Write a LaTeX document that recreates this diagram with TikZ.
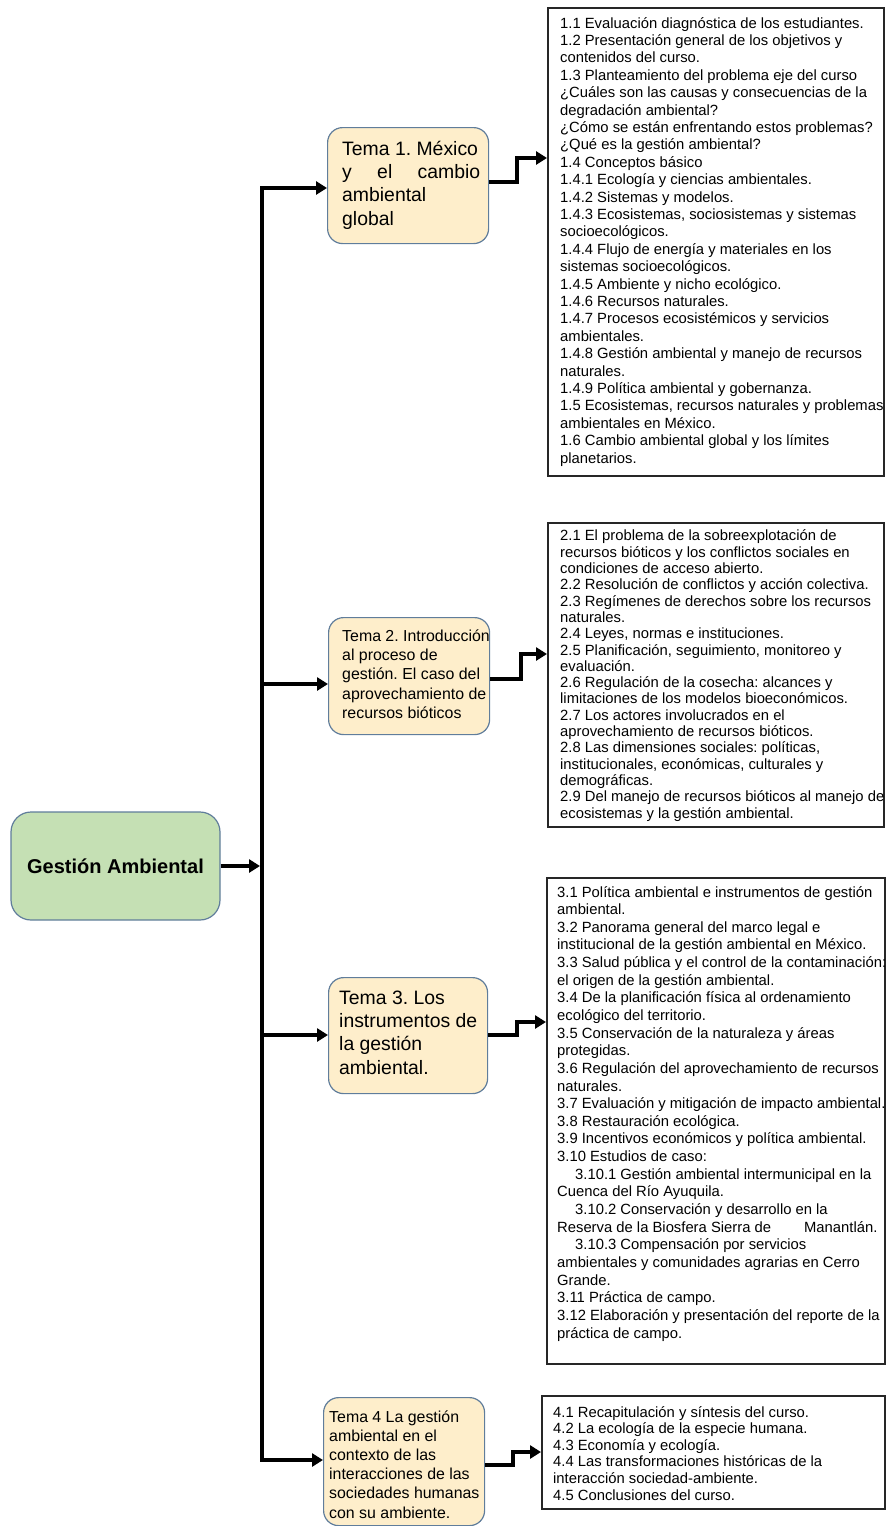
\documentclass[tikz,border=0pt]{standalone}
\usepackage{fontspec}
\setmainfont{Liberation Sans}
\usetikzlibrary{arrows.meta}
\frenchspacing
\definecolor{temafill}{RGB}{254,238,203}
\definecolor{gafill}{RGB}{197,224,180}
\definecolor{boxline}{RGB}{96,125,155}
\newcommand{\listfont}[1]{\fontsize{14.8}{#1}\selectfont}
\tikzset{gmarrow/.style={-{Triangle[length=11pt,width=13pt]}, line width=4pt},
gmline/.style={line width=4pt, line cap=rect},
temabox/.style={draw=boxline, line width=1.2pt, fill=temafill, rounded corners=15pt, anchor=north west, inner sep=0pt},
listbox/.style={draw=black!85, line width=1.5pt, anchor=north west, inner sep=0pt},
listtxt/.style={anchor=base west, align=left, inner sep=0pt}}

\begin{document}
\begin{tikzpicture}[x=1pt, y=-1pt]
\useasboundingbox (0,0) rectangle (886,1526);
\node[draw=boxline, line width=1.2pt, fill=gafill, rounded corners=20pt, minimum width=209pt, minimum height=108pt, font=\fontsize{20}{24}\selectfont\bfseries] (ga) at (115.5,866) {Gestión Ambiental};
\coordinate (j1) at (262,188);
\coordinate (j2) at (262,684);
\coordinate (j3) at (262,1035);
\coordinate (j4) at (262,1460);
\node[temabox, minimum width=161pt, minimum height=116pt] (t1) at (327,127) {};
\node[temabox, minimum width=161pt, minimum height=117pt] (t2) at (328,617) {};
\node[temabox, minimum width=159pt, minimum height=116pt] (t3) at (328,977) {};
\node[temabox, minimum width=161pt, minimum height=128pt] (t4) at (323,1397) {};
\node[listtxt, font=\fontsize{19.4}{23.3}\selectfont] (t1txt) at (342,225) {Tema 1. México\\ \makebox[138pt][s]{y el cambio}\\ ambiental\\ global};
\node[listtxt, font=\fontsize{15.9}{19.4}\selectfont] (t2txt) at (342,718.6) {Tema 2. Introducción\\ al proceso de\\ gestión. El caso del\\ aprovechamiento de\\ recursos bióticos};
\node[listtxt, font=\fontsize{19.4}{23.3}\selectfont] (t3txt) at (339,1074) {Tema 3. Los\\ instrumentos de\\ la gestión\\ ambiental.};
\node[listtxt, font=\fontsize{15.9}{19.2}\selectfont] (t4txt) at (329,1518) {Tema 4 La gestión\\ ambiental en el\\ contexto de las\\ interacciones de las\\ sociedades humanas\\ con su ambiente.};
\node[listbox, minimum width=336pt, minimum height=468pt] (l1) at (547,7) {};
\node[listbox, minimum width=336pt, minimum height=304pt] (l2) at (547,522) {};
\node[listbox, minimum width=338pt, minimum height=486pt] (l3) at (546,877) {};
\node[listbox, minimum width=343pt, minimum height=113pt] (l4) at (541,1395) {};
\node[listtxt, font=\listfont{17.4}] (l1txt) at (560,463) {1.1 Evaluación diagnóstica de los estudiantes.\\
1.2 Presentación general de los objetivos y\\
contenidos del curso.\\
1.3 Planteamiento del problema eje del curso\\
¿Cuáles son las causas y consecuencias de la\\
degradación ambiental?\\
¿Cómo se están enfrentando estos problemas?\\
¿Qué es la gestión ambiental?\\
1.4 Conceptos básico\\
1.4.1 Ecología y ciencias ambientales.\\
1.4.2 Sistemas y modelos.\\
1.4.3 Ecosistemas, sociosistemas y sistemas\\
socioecológicos.\\
1.4.4 Flujo de energía y materiales en los\\
sistemas socioecológicos.\\
1.4.5 Ambiente y nicho ecológico.\\
1.4.6 Recursos naturales.\\
1.4.7 Procesos ecosistémicos y servicios\\
ambientales.\\
1.4.8 Gestión ambiental y manejo de recursos\\
naturales.\\
1.4.9 Política ambiental y gobernanza.\\
1.5 Ecosistemas, recursos naturales y problemas\\
ambientales en México.\\
1.6 Cambio ambiental global y los límites\\
planetarios.};
\node[listtxt, font=\listfont{16.3}] (l2txt) at (560,818) {2.1 El problema de la sobreexplotación de\\
recursos bióticos y los conflictos sociales en\\
condiciones de acceso abierto.\\
2.2 Resolución de conflictos y acción colectiva.\\
2.3 Regímenes de derechos sobre los recursos\\
naturales.\\
2.4 Leyes, normas e instituciones.\\
2.5 Planificación, seguimiento, monitoreo y\\
evaluación.\\
2.6 Regulación de la cosecha: alcances y\\
limitaciones de los modelos bioeconómicos.\\
2.7 Los actores involucrados en el\\
aprovechamiento de recursos bióticos.\\
2.8 Las dimensiones sociales: políticas,\\
institucionales, económicas, culturales y\\
demográficas.\\
2.9 Del manejo de recursos bióticos al manejo de\\
ecosistemas y la gestión ambiental.};
\node[listtxt, font=\listfont{17.64}] (l3txt) at (557,1338) {3.1 Política ambiental e instrumentos de gestión\\
ambiental.\\
3.2 Panorama general del marco legal e\\
institucional de la gestión ambiental en México.\\
3.3 Salud pública y el control de la contaminación:\\
el origen de la gestión ambiental.\\
3.4 De la planificación física al ordenamiento\\
ecológico del territorio.\\
3.5 Conservación de la naturaleza y áreas\\
protegidas.\\
3.6 Regulación del aprovechamiento de recursos\\
naturales.\\
3.7 Evaluación y mitigación de impacto ambiental.\\
3.8 Restauración ecológica.\\
3.9 Incentivos económicos y política ambiental.\\
3.10 Estudios de caso:\\
\hspace*{18pt}3.10.1 Gestión ambiental intermunicipal en la\\
Cuenca del Río Ayuquila.\\
\hspace*{18pt}3.10.2 Conservación y desarrollo en la\\
Reserva de la Biosfera Sierra de\hspace{29pt} Manantlán.\\
\hspace*{18pt}3.10.3 Compensación por servicios\\
ambientales y comunidades agrarias en Cerro\\
Grande.\\
3.11 Práctica de campo.\\
3.12 Elaboración y presentación del reporte de la\\
práctica de campo.};
\node[listtxt, font=\listfont{16.6}] (l4txt) at (553,1500) {4.1 Recapitulación y síntesis del curso.\\
4.2 La ecología de la especie humana.\\
4.3 Economía y ecología.\\
4.4 Las transformaciones históricas de la\\
interacción sociedad-ambiente.\\
4.5 Conclusiones del curso.};
\draw[gmline] (j1) -- (j4);
\draw[gmarrow, shorten >=2pt] (ga.east) -- (ga.east -| j1);
\draw[gmarrow] (j1) -- (j1 -| t1.west);
\draw[gmarrow] (j2) -- (j2 -| t2.west);
\draw[gmarrow] (j3) -- (j3 -| t3.west);
\draw[gmarrow] (j4) -- (j4 -| t4.west);
\draw[gmarrow] (t1.east |- 0,182) -- ++(28,0) |- (l1.west |- 0,158);
\draw[gmarrow] (t2.east |- 0,679) -- ++(31,0) |- (l2.west |- 0,654);
\draw[gmarrow] (t3.east |- 0,1035) -- ++(29,0) |- (l3.west |- 0,1022);
\draw[gmarrow] (t4.east |- 0,1465) -- ++(28,0) |- (l4.west |- 0,1452);
\end{tikzpicture}
\end{document}
